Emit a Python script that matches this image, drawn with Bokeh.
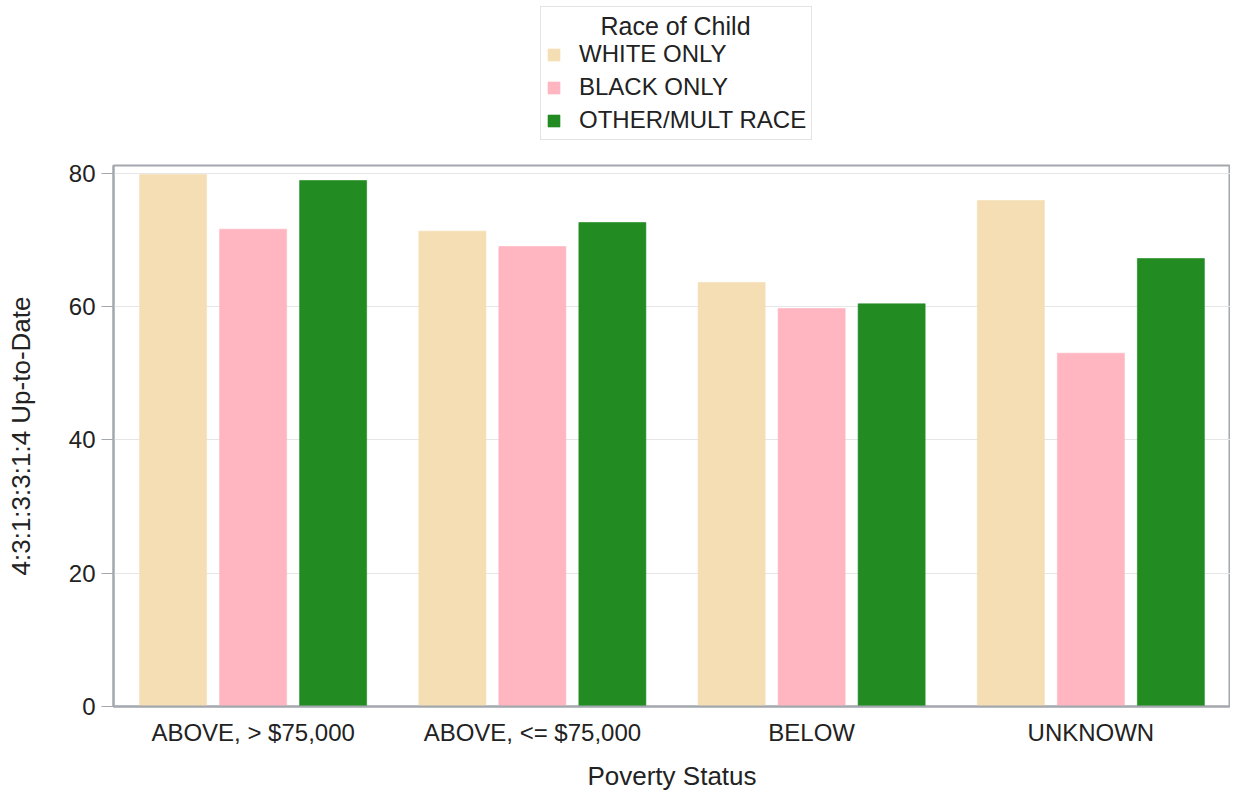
from bokeh.plotting import figure
from bokeh.layouts import column
from bokeh.models import ColumnDataSource, FactorRange, Range1d, Legend, LegendItem, Label, FixedTicker
from bokeh.transform import dodge
from bokeh.embed import file_html
from bokeh.resources import INLINE

categories = ["ABOVE, > $75,000", "ABOVE, <= $75,000", "BELOW", "UNKNOWN"]
white_only = [79.8, 71.3, 63.6, 75.9]
black_only = [71.6, 69.0, 59.7, 53.0]
other_mult = [78.9, 72.6, 60.4, 67.2]
series_names = ["WHITE ONLY", "BLACK ONLY", "OTHER/MULT RACE"]
legend_title = "Race of Child"
colors = ["#F5DEB3", "#FFB6C1", "#228B22"]
y_ticks = [0, 20, 40, 60, 80]

FONT = "Liberation Sans"
TXT = "#222222"
AXC = "#a2a8ae"
W = 1230
LH = 150            # height of the legend strip
H = 643             # height of the chart
ML, MT, MB = 113, 15, 84
Y_MAX = 81.15

# ---------------- chart ----------------
src = ColumnDataSource(dict(cat=categories, w=white_only, b=black_only, o=other_mult))

p = figure(x_range=FactorRange(*categories, range_padding=0), y_range=Range1d(0, Y_MAX),
           width=W, height=H, output_backend="svg", toolbar_location=None,
           min_border_left=ML, min_border_top=MT, min_border_bottom=MB, min_border_right=0)

offs = [-0.2865, 0.0, 0.2865]
for col, off, c in zip(["w", "b", "o"], offs, colors):
    p.vbar(x=dodge("cat", off, range=p.x_range), top=col, width=0.24, source=src,
           fill_color=c, line_color=c, line_alpha=0.6, line_width=1)

p.outline_line_color = AXC
p.outline_line_width = 2
p.xgrid.grid_line_color = None
p.ygrid.grid_line_color = "#e6e6e6"
p.ygrid.ticker = FixedTicker(ticks=y_ticks)

p.yaxis.ticker = FixedTicker(ticks=y_ticks)
p.yaxis.axis_label = "4:3:1:3:3:1:4 Up-to-Date"
p.xaxis.axis_label = "Poverty Status"
for ax in (p.xaxis[0], p.yaxis[0]):
    ax.axis_line_color = AXC
    ax.axis_line_width = 2
    ax.major_label_text_font = FONT
    ax.major_label_text_font_size = "24px"
    ax.major_label_text_color = TXT
    ax.axis_label_text_font = FONT
    ax.axis_label_text_font_size = "26px"
    ax.axis_label_text_font_style = "normal"
    ax.axis_label_text_color = TXT
    ax.minor_tick_line_color = None
p.yaxis.major_tick_line_color = AXC
p.yaxis.major_tick_out = 12
p.yaxis.major_tick_in = 0
p.yaxis.major_label_standoff = 6
p.yaxis.axis_label_standoff = 30
p.xaxis.major_tick_line_color = None
p.xaxis.major_label_standoff = 6
p.xaxis.axis_label_standoff = 12

# ---------------- legend strip (frame aligned with the chart frame) ----------------
lg = figure(width=W, height=LH, x_range=Range1d(ML, W), y_range=Range1d(0, LH),
            output_backend="svg", toolbar_location=None,
            min_border_left=ML, min_border_right=0, min_border_top=0, min_border_bottom=0)
lg.axis.visible = False
lg.grid.visible = False
lg.outline_line_color = None
swatches = [lg.vbar(x=[-100], top=[0], width=1, fill_color=c, line_color=c, line_alpha=0.6)
            for c in colors]

legend = Legend(items=[LegendItem(label=n, renderers=[r]) for n, r in zip(series_names, swatches)],
                location=(540 - ML, 10), orientation="vertical")
legend.title = " "
legend.title_text_font = FONT
legend.title_text_font_size = "17px"
legend.title_standoff = 8
legend.label_text_font = FONT
legend.label_text_font_size = "24px"
legend.label_text_color = TXT
legend.glyph_width = 15
legend.glyph_height = 15
legend.label_height = 25
legend.label_standoff = 18
legend.spacing = 5
legend.padding = 5
legend.margin = 0
legend.border_line_color = "#c8c8c8"
legend.border_line_width = 1
legend.background_fill_color = None
lg.add_layout(legend, "center")
lg.add_layout(Label(x=675, y=LH - 25, text=legend_title, text_align="center",
                    text_baseline="middle", text_font=FONT, text_font_size="25px",
                    text_color=TXT))

layout = column(lg, p, spacing=0)
open("out.html", "w").write(file_html(layout, INLINE))
